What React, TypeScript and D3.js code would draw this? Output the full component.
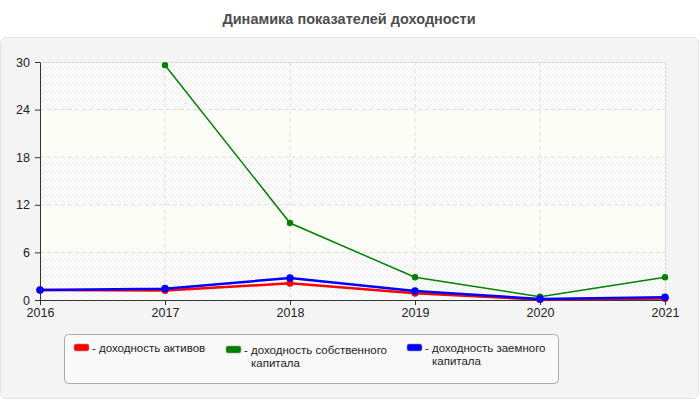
import * as React from "react";
import * as d3 from "d3";
import { useEffect, useRef } from "react";

const title = "Динамика показателей доходности";
const years = ["2016", "2017", "2018", "2019", "2020", "2021"];
const yTicks = [0, 6, 12, 18, 24, 30];
// values
const assetsReturn = [1.26, 1.2, 2.1, 0.84, 0.06, 0.2];
const equityReturn = [null, 29.6, 9.7, 2.86, 0.42, 2.86];
const debtReturn = [1.26, 1.43, 2.77, 1.13, 0.13, 0.34];
const seriesNames = [
  "доходность активов",
  "доходность собственного капитала",
  "доходность заемного капитала",
];

const W = 700;
const H = 400;
const FONT = '"Liberation Sans", Arial, sans-serif';

function wrap(text: string, maxChars: number) {
  const words = text.split(" ");
  const lines: string[] = [];
  let cur = "";
  words.forEach((w) => {
    const next = cur ? cur + " " + w : w;
    if (next.length > maxChars && cur) {
      lines.push(cur);
      cur = w;
    } else cur = next;
  });
  if (cur) lines.push(cur);
  return lines;
}

function drawChart(svgEl: SVGSVGElement) {
  const svg = d3.select(svgEl);
  svg.selectAll("*").remove();

  const left = 40;
  const right = 665;
  const top = 62;
  const bottom = 300;

  const x = d3.scalePoint<string>().domain(years).range([left, right]);
  const y = d3.scaleLinear().domain([0, 30]).range([bottom, top]);

  // hatch pattern for the plot background
  const defs = svg.append("defs");
  const pat = defs
    .append("pattern")
    .attr("id", "hatch")
    .attr("patternUnits", "userSpaceOnUse")
    .attr("width", 4)
    .attr("height", 4);
  pat.append("rect").attr("width", 4).attr("height", 4).attr("fill", "#ffffff");
  pat
    .append("path")
    .attr("d", "M-1,1 l2,-2 M0,4 l4,-4 M3,5 l2,-2")
    .attr("stroke", "#ececec")
    .attr("stroke-width", 1);

  // outer panel
  svg
    .append("rect")
    .attr("x", 0.5)
    .attr("y", 37.5)
    .attr("width", 698)
    .attr("height", 361)
    .attr("rx", 6)
    .attr("fill", "#f4f4f4")
    .attr("stroke", "#e3e3e3");

  // title
  svg
    .append("text")
    .attr("x", 349)
    .attr("y", 24)
    .attr("text-anchor", "middle")
    .attr("font-family", FONT)
    .attr("font-size", 14.5)
    .attr("font-weight", "bold")
    .attr("fill", "#4d4d4d")
    .text(title);

  // alternating bands
  const bands = d3.pairs(yTicks);
  svg
    .append("g")
    .selectAll("rect")
    .data(bands)
    .enter()
    .append("rect")
    .attr("x", left)
    .attr("width", right - left)
    .attr("y", (d) => y(d[1]))
    .attr("height", (d) => y(d[0]) - y(d[1]))
    .attr("fill", (d, i) => (i % 2 === 0 ? "url(#hatch)" : "#fcfdf6"));

  // grid
  const grid = svg.append("g").attr("stroke", "#dcdcdc").attr("stroke-dasharray", "4,3");
  yTicks.slice(1, -1).forEach((t) => {
    grid.append("line").attr("x1", left).attr("x2", right).attr("y1", y(t)).attr("y2", y(t));
  });
  years.slice(1, -1).forEach((yr) => {
    grid.append("line").attr("x1", x(yr)!).attr("x2", x(yr)!).attr("y1", top).attr("y2", bottom);
  });
  // light frame on top / right
  svg
    .append("path")
    .attr("d", `M${left},${top + 0.5}H${right + 0.5}V${bottom}`)
    .attr("fill", "none")
    .attr("stroke", "#dddddd");

  // axes
  const yAxis = d3.axisLeft(y).tickValues(yTicks).tickSize(5).tickPadding(5).tickSizeOuter(0);
  svg
    .append("g")
    .attr("transform", `translate(${left},0)`)
    .call(yAxis)
    .attr("font-family", FONT)
    .attr("font-size", 12.5)
    .call((g) => g.selectAll("line,path").attr("stroke", "#333"))
    .call((g) => g.selectAll("text").attr("fill", "#222"));

  const xAxis = d3.axisBottom(x).tickSize(5).tickPadding(3).tickSizeOuter(0);
  svg
    .append("g")
    .attr("transform", `translate(0,${bottom})`)
    .call(xAxis)
    .attr("font-family", FONT)
    .attr("font-size", 12.5)
    .call((g) => g.selectAll("line,path").attr("stroke", "#333"))
    .call((g) => g.selectAll("text").attr("fill", "#222"));

  // series
  const series = [
    { values: equityReturn, color: "#008000", width: 1.5, r: 3.2 },
    { values: assetsReturn, color: "#ff0000", width: 2.5, r: 3.5 },
    { values: debtReturn, color: "#0000ff", width: 2.5, r: 3.8 },
  ];
  series.forEach((s) => {
    const pts = years
      .map((yr, i) => ({ yr, v: s.values[i] }))
      .filter((p) => p.v !== null) as { yr: string; v: number }[];
    const line = d3
      .line<{ yr: string; v: number }>()
      .x((d) => x(d.yr)!)
      .y((d) => y(d.v));
    svg
      .append("path")
      .datum(pts)
      .attr("d", line)
      .attr("fill", "none")
      .attr("stroke", s.color)
      .attr("stroke-width", s.width);
    svg
      .append("g")
      .selectAll("circle")
      .data(pts)
      .enter()
      .append("circle")
      .attr("cx", (d) => x(d.yr)!)
      .attr("cy", (d) => y(d.v))
      .attr("r", s.r)
      .attr("fill", s.color);
  });

  // legend
  svg
    .append("rect")
    .attr("x", 64.5)
    .attr("y", 334.5)
    .attr("width", 494)
    .attr("height", 49)
    .attr("rx", 4)
    .attr("fill", "#f9f9f9")
    .attr("stroke", "#aaaaaa");

  const legendColors = ["#ff0000", "#008000", "#0000ff"];
  const legendX = [74, 226, 407];
  const legendY = [344, 346, 344];
  seriesNames.forEach((name, i) => {
    const g = svg.append("g").attr("transform", `translate(${legendX[i]},${legendY[i]})`);
    g.append("rect")
      .attr("width", 15)
      .attr("height", 7)
      .attr("rx", 2)
      .attr("fill", legendColors[i])
      .attr("stroke", "#999")
      .attr("stroke-width", 0.6);
    const lines = wrap(name, 23);
    lines.forEach((ln, j) => {
      g.append("text")
        .attr("x", j === 0 ? 18 : 25)
        .attr("y", 7.5 + j * 13)
        .attr("font-family", FONT)
        .attr("font-size", 11.5)
        .attr("fill", "#222")
        .text(j === 0 ? "- " + ln : ln);
    });
  });
}

export default function App() {
  const svgRef = useRef<SVGSVGElement>(null);
  useEffect(() => {
    if (svgRef.current) drawChart(svgRef.current);
  }, []);
  return (
    <div>
      <style>{"body{margin:0;background:#fff}"}</style>
      <svg ref={svgRef} width={W} height={H} style={{ display: "block" }} />
    </div>
  );
}
